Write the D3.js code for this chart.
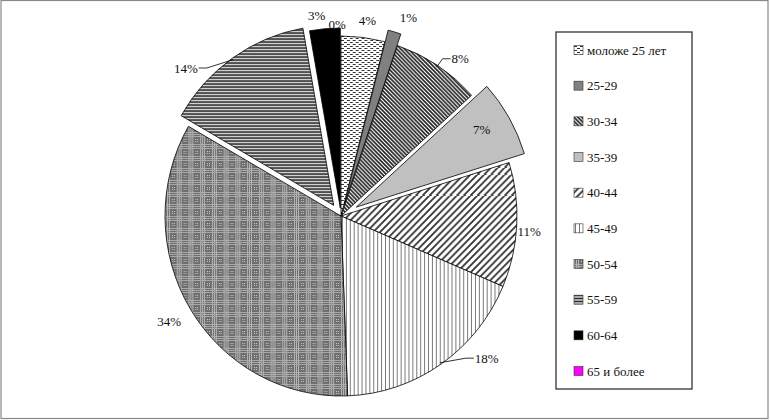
<!DOCTYPE html>
<html>
<head>
<meta charset="utf-8">
<script src="https://cdn.jsdelivr.net/npm/d3@7"></script>
<style>
  body { margin: 0; background: #fff; }
</style>
</head>
<body>
<div id="chart"></div>
<script>
// данные диаграммы
var categories = ["моложе 25 лет", "25-29", "30-34", "35-39", "40-44",
                  "45-49", "50-54", "55-59", "60-64", "65 и более"];
var shares = [4.0, 1.2, 8.1, 6.9, 11.2, 18.0, 33.9, 13.9, 2.8, 0];
var shareLabels = ["4%", "1%", "8%", "7%", "11%", "18%", "34%", "14%", "3%", "0%"];

var width = 770, height = 420;
var cx = 341, cy = 216, R = 180, rx = 176;
var font = "'Liberation Serif', 'Times New Roman', serif";
// вынесенные сектора
var explodeBy = [0, 12, 0, 18, 0, 0, 0, 13, 8, 8];
// сдвиг подписей: [угол, расстояние], и выноски
var labelNudge = [[0.7, 197], [2.6, 210], [4.5, 199], [-1.4, 168], [1.6, 193],
                  [-11.8, 206], [0.1, 205], [-11.9, 217], [-2, 202], [-1.2, 192]];
var leader = [false, false, true, false, false, true, false, true, false, false];

var svg = d3.select("#chart").append("svg")
  .attr("width", width).attr("height", height);

var defs = svg.append("defs");
function pat(id, w, h, bg) {
  var p = defs.append("pattern").attr("id", id)
    .attr("patternUnits", "userSpaceOnUse").attr("width", w).attr("height", h);
  p.append("rect").attr("width", w).attr("height", h).attr("fill", bg);
  return p;
}
var p0 = pat("p0", 6, 4, "#fff");
p0.append("rect").attr("x", 0).attr("y", 0).attr("width", 3).attr("height", 1).attr("fill", "#333");
p0.append("rect").attr("x", 3).attr("y", 2).attr("width", 3).attr("height", 1).attr("fill", "#333");
var p2 = pat("p2", 4, 4, "#fff");
p2.append("path").attr("d", "M-1,-1L5,5M-1,3L1,5M3,-1L5,1").attr("stroke", "#222").attr("stroke-width", 1.6);
var p4 = pat("p4", 7, 7, "#fff");
p4.append("path").attr("d", "M-1,8L8,-1M-1,1L1,-1M6,8L8,6").attr("stroke", "#333").attr("stroke-width", 1.8);
var p5 = pat("p5", 4, 4, "#fff");
p5.append("rect").attr("x", 1).attr("y", 0).attr("width", 1).attr("height", 4).attr("fill", "#777");
var p6 = pat("p6", 12, 12, "#6e6e6e");
[0, 2, 4].forEach(function(v) {
  p6.append("rect").attr("x", v).attr("y", 0).attr("width", 1).attr("height", 12).attr("fill", "#b8b8b8");
  p6.append("rect").attr("x", 0).attr("y", v).attr("width", 12).attr("height", 1).attr("fill", "#a8a8a8");
});
[7, 9].forEach(function(v) {
  p6.append("rect").attr("x", v).attr("y", 7).attr("width", 1).attr("height", 1).attr("fill", "#c8c8c8");
  p6.append("rect").attr("x", v).attr("y", 9).attr("width", 1).attr("height", 1).attr("fill", "#c8c8c8");
});
var p7 = pat("p7", 3, 3, "#fff");
p7.append("rect").attr("x", 0).attr("y", 1).attr("width", 3).attr("height", 1.5).attr("fill", "#000");

var fills = ["url(#p0)", "#808080", "url(#p2)", "#c0c0c0", "url(#p4)",
             "url(#p5)", "url(#p6)", "url(#p7)", "#000", "#ff00ff"];

// рамка
svg.append("rect").attr("x", 1).attr("y", 0.5).attr("width", 767).attr("height", 418)
  .attr("fill", "none").attr("stroke", "#888").attr("stroke-width", 1.2);

var pie = d3.pie().sort(null).value(function(d) { return d; });
var arcs = pie(shares);
var arc = d3.arc().innerRadius(0).outerRadius(R);

var g = svg.append("g")
  .attr("transform", "translate(" + cx + "," + cy + ") scale(" + (rx / R) + ",1)");

g.selectAll("path.slice")
  .data(arcs.filter(function(d) { return d.value > 0; }))
  .enter().append("path")
  .attr("class", "slice")
  .attr("d", arc)
  .attr("fill", function(d) { return fills[d.index]; })
  .attr("stroke", "#000")
  .attr("stroke-width", 0.8)
  .attr("transform", function(d) {
    var a = (d.startAngle + d.endAngle) / 2, e = explodeBy[d.index];
    return "translate(" + (e * Math.sin(a)) + "," + (-e * Math.cos(a)) + ")";
  });

// подписи
function pt(a, r) {
  return [cx + r * Math.sin(a) * rx / R, cy - r * Math.cos(a)];
}
arcs.forEach(function(d, i) {
  var mid = (d.startAngle + d.endAngle) / 2;
  var a = mid + labelNudge[i][0] * Math.PI / 180;
  var p = pt(a, labelNudge[i][1]);
  var t = svg.append("text")
    .attr("x", p[0]).attr("y", p[1])
    .attr("text-anchor", "middle")
    .attr("dominant-baseline", "central")
    .attr("font-family", font)
    .attr("font-size", 13)
    .attr("fill", "#111")
    .text(shareLabels[i]);
  if (leader[i]) {
    var e = explodeBy[i];
    var s = pt(mid, R * 0.99);
    s[0] += e * Math.sin(mid); s[1] -= e * Math.cos(mid);
    var half = t.node().getComputedTextLength() / 2 + 1;
    var side = s[0] > p[0] ? 1 : -1;
    var end = [p[0] + side * half, p[1]];
    var elbow = [end[0] + side * 8, end[1]];
    svg.append("path")
      .attr("d", d3.line()([s, elbow, end]))
      .attr("fill", "none").attr("stroke", "#000").attr("stroke-width", 0.8);
  }
});

// легенда
var lg = svg.append("g");
lg.append("rect").attr("x", 556).attr("y", 32).attr("width", 136).attr("height", 357)
  .attr("fill", "#fff").attr("stroke", "#222").attr("stroke-width", 1.2);
var ly = d3.scalePoint().domain(categories).range([50, 371]);
var items = lg.selectAll("g.item").data(categories).enter().append("g")
  .attr("class", "item")
  .attr("transform", function(d) { return "translate(574," + ly(d) + ")"; });
items.append("rect").attr("x", 0).attr("y", -4.5).attr("width", 9).attr("height", 9)
  .attr("fill", function(d, i) { return fills[i]; })
  .attr("stroke", "#333").attr("stroke-width", 0.6);
items.append("text").attr("x", 13).attr("y", 0)
  .attr("dominant-baseline", "central")
  .attr("font-family", font)
  .attr("font-size", 13)
  .attr("fill", "#111")
  .text(function(d) { return d; });
</script>
</body>
</html>
